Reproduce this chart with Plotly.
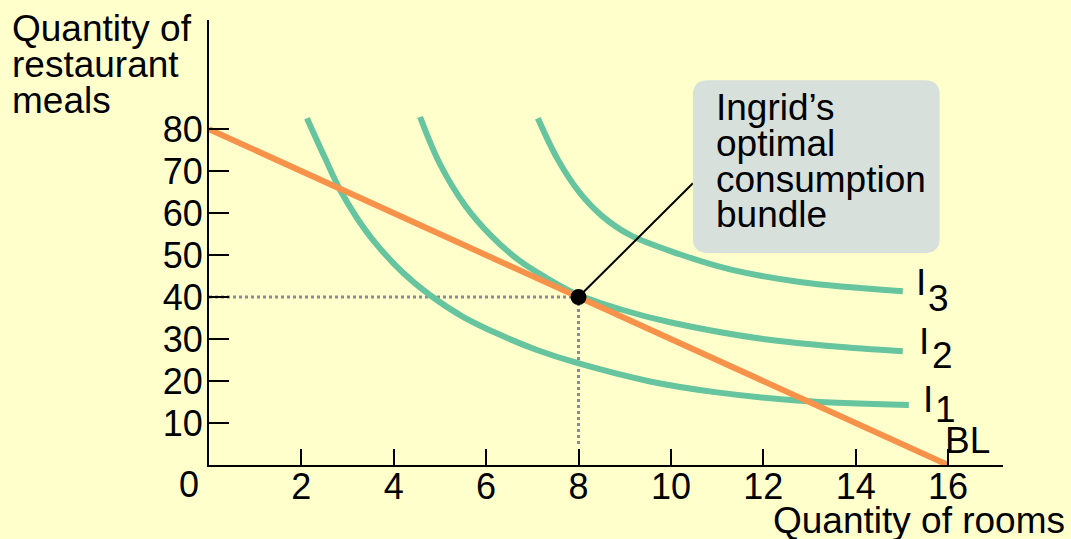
import plotly.graph_objects as go

# Quantity of rooms (x) and restaurant meals (y)
budget_x = [0, 16]
budget_y = [80, 0]

i1_x = [2.12, 2.5, 2.84, 3.2, 3.6, 4.2, 4.78, 5.5, 6.3, 7.1, 7.97, 9.55, 11.0, 12.8, 15.15]
i1_y = [82.6, 73.4, 65.5, 58.9, 52.9, 45.8, 40.5, 35.3, 31.0, 27.4, 24.3, 19.9, 17.3, 15.3, 14.3]

i2_x = [4.57, 5.0, 5.54, 6.1, 6.73, 7.3, 7.97, 8.9, 9.98, 12.0, 13.5, 15.02]
i2_y = [82.9, 71.7, 61.9, 54.7, 48.6, 44.6, 40.6, 37.1, 34.0, 30.0, 28.3, 27.1]

i3_x = [7.12, 7.55, 8.03, 8.5, 9.11, 10.19, 11.28, 12.79, 15.02]
i3_y = [82.6, 72.8, 64.8, 59.4, 54.8, 50.2, 46.6, 43.6, 41.4]

optimum_x = 8
optimum_y = 40

x_ticks = [2, 4, 6, 8, 10, 12, 14, 16]
y_ticks = [10, 20, 30, 40, 50, 60, 70, 80]

FONT = "Liberation Sans, Arial, sans-serif"
FS = 37
TICK_FS = 36
GREEN = "#66C49E"
ORANGE = "#F7924A"
BG = "#FFFFCC"

fig = go.Figure()

# guide lines to the optimum
fig.add_trace(go.Scatter(x=[0, optimum_x], y=[optimum_y, optimum_y], mode="lines",
                         line=dict(color="#8A8A96", width=3, dash="dot"), hoverinfo="skip"))
fig.add_trace(go.Scatter(x=[optimum_x, optimum_x], y=[optimum_y, 4.5], mode="lines",
                         line=dict(color="#8A8A96", width=3, dash="dot"), hoverinfo="skip"))

for cx, cy in [(i1_x, i1_y), (i2_x, i2_y), (i3_x, i3_y)]:
    fig.add_trace(go.Scatter(x=cx, y=cy, mode="lines",
                             line=dict(color=GREEN, width=6, shape="spline", smoothing=1.0)))

fig.add_trace(go.Scatter(x=budget_x, y=budget_y, mode="lines",
                         line=dict(color=ORANGE, width=6)))

# pointer from the callout to the optimum
box_x0, box_x1, box_y0, box_y1 = 10.476, 15.82, 50.48, 91.67
fig.add_trace(go.Scatter(x=[optimum_x, box_x0], y=[optimum_y, 67.1], mode="lines",
                         line=dict(color="black", width=2)))
fig.add_trace(go.Scatter(x=[optimum_x], y=[optimum_y], mode="markers",
                         marker=dict(color="black", size=16)))

# rounded callout box
rx, ry = 15 / 46.2, 15 / 4.2
path = (f"M {box_x0 + rx},{box_y1} L {box_x1 - rx},{box_y1} "
        f"Q {box_x1},{box_y1} {box_x1},{box_y1 - ry} L {box_x1},{box_y0 + ry} "
        f"Q {box_x1},{box_y0} {box_x1 - rx},{box_y0} L {box_x0 + rx},{box_y0} "
        f"Q {box_x0},{box_y0} {box_x0},{box_y0 + ry} L {box_x0},{box_y1 - ry} "
        f"Q {box_x0},{box_y1} {box_x0 + rx},{box_y1} Z")
fig.add_shape(type="path", path=path, xref="x", yref="y",
              fillcolor="#D8E0DC", line=dict(width=0), layer="above")

ann = []
def txt(s, x, y, xref="x", yref="y", xanchor="center", yanchor="middle", size=FS):
    ann.append(dict(text=s, x=x, y=y, xref=xref, yref=yref, xanchor=xanchor,
                    yanchor=yanchor, showarrow=False,
                    font=dict(family=FONT, size=size, color="black")))

for s, y in [("Ingrid\u2019s", 85.12), ("optimal", 76.55),
             ("consumption", 67.98), ("bundle", 59.64)]:
    txt(s, 10.93, y, xanchor="left")

txt("I", 15.42, 43.45); txt("3", 15.80, 39.64)
txt("I", 15.48, 29.40); txt("2", 15.87, 26.19)
txt("I", 15.56, 15.71); txt("1", 15.95, 13.33)
txt("BL", 16.43, 5.83)

for s, y in [("Quantity of", 0.982), ("restaurant", 0.899), ("meals", 0.820)]:
    txt(s, -0.2506, y, xref="paper", yref="paper", xanchor="left")
txt("Quantity of rooms", 1.0806, -0.1236, xref="paper", yref="paper", xanchor="right")
txt("0", -0.0252, -0.0449, xref="paper", yref="paper", size=TICK_FS)

fig.update_layout(
    width=1071, height=539,
    margin=dict(l=209, r=68, t=20, b=74),
    paper_bgcolor=BG, plot_bgcolor=BG,
    showlegend=False,
    annotations=ann,
    font=dict(family=FONT, size=FS, color="black"),
    xaxis=dict(range=[0, 17.19], showgrid=False, zeroline=False,
               showline=True, linecolor="black", linewidth=2,
               ticks="inside", ticklen=16, tickwidth=2, tickcolor="black",
               tickvals=x_ticks, ticktext=[str(v) for v in x_ticks],
               tickfont=dict(family=FONT, size=TICK_FS), ticklabelstandoff=-11),
    yaxis=dict(range=[0, 106], showgrid=False, zeroline=False,
               showline=True, linecolor="black", linewidth=2,
               ticks="inside", ticklen=20, tickwidth=2, tickcolor="black",
               tickvals=y_ticks, ticktext=[str(v) for v in y_ticks],
               tickfont=dict(family=FONT, size=TICK_FS), ticklabelstandoff=-3),
)

fig.write_html("out.html")
